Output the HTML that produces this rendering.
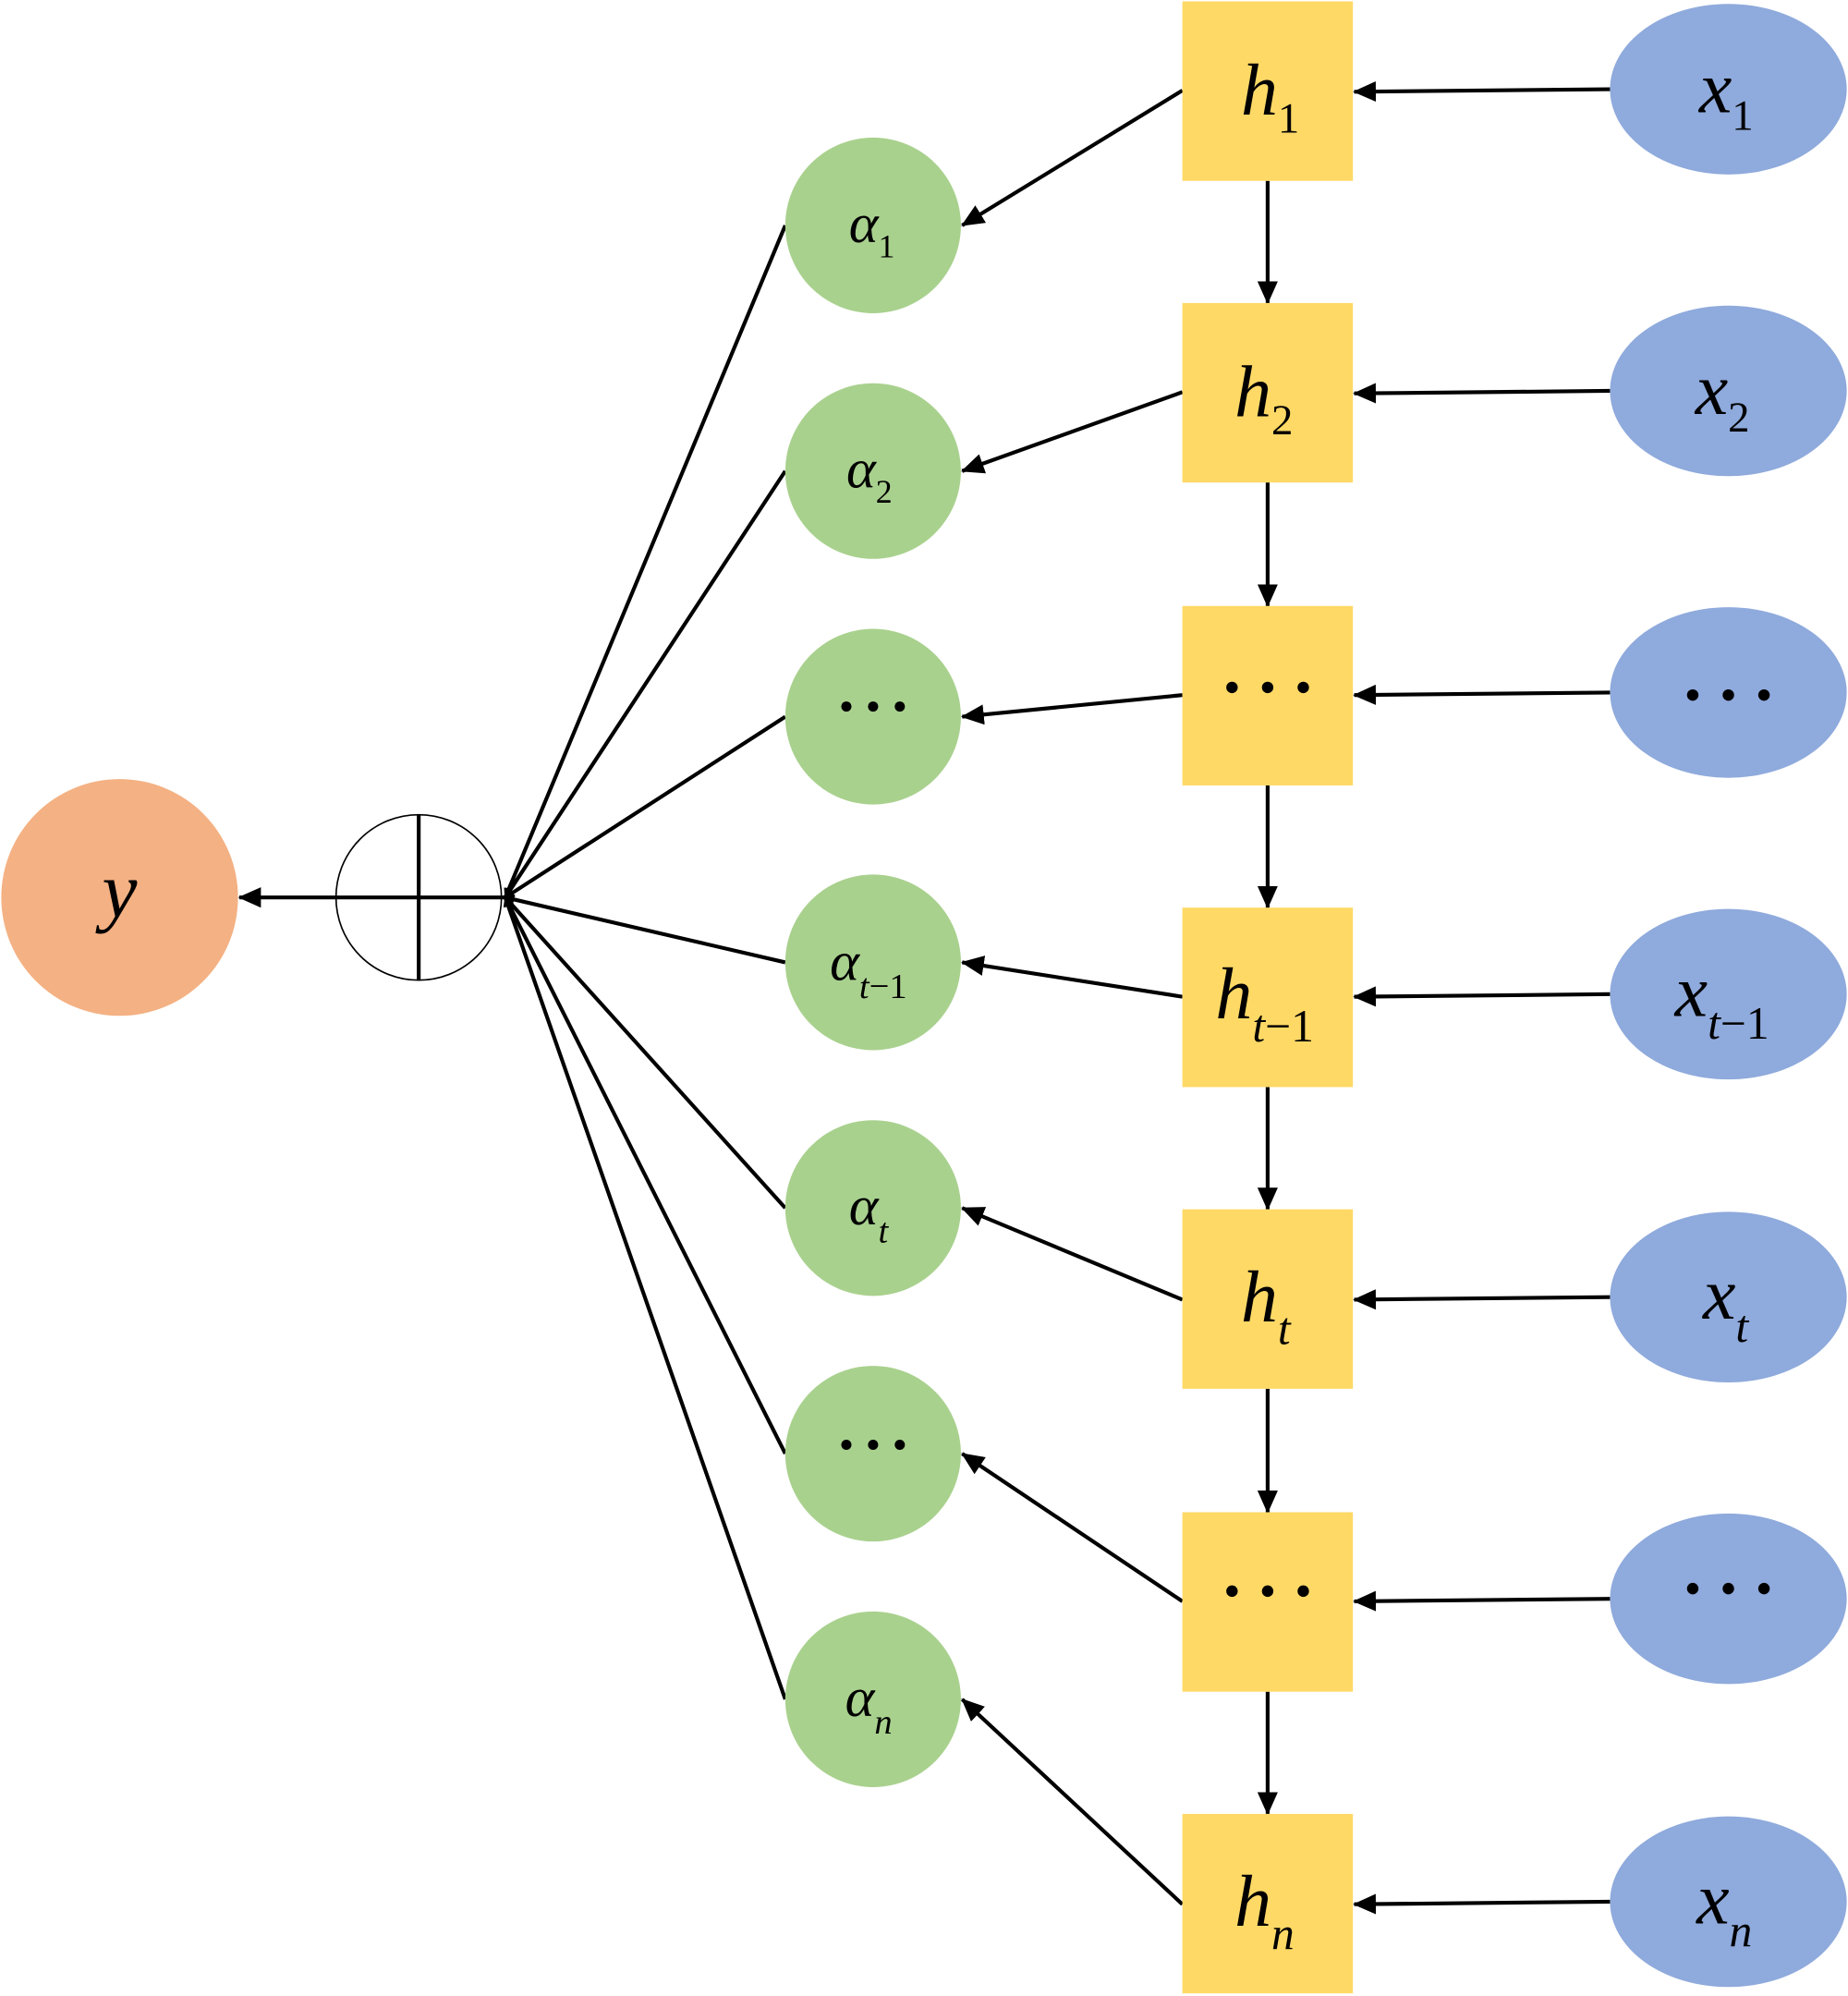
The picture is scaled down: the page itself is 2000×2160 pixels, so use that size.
<!DOCTYPE html>
<html><head><meta charset="utf-8"><style>html,body{margin:0;padding:0;background:#fff}svg{display:block}</style></head>
<body>
<svg width="2000" height="2160" viewBox="0 0 1452 1568" xmlns="http://www.w3.org/2000/svg" font-family="'Liberation Serif', 'Times New Roman', serif" font-style="italic">
<defs><marker id="a" markerWidth="8" markerHeight="8" refX="7" refY="4" orient="auto" markerUnits="userSpaceOnUse" viewBox="0 0 8 8"><path d="M0,0 L8,4 L0,8z" fill="#000"/></marker>
<marker id="b" markerWidth="18" markerHeight="18" refX="17" refY="9" orient="auto" markerUnits="userSpaceOnUse" viewBox="0 0 18 18"><path d="M0,1 L18,9 L0,17z" fill="#000"/></marker></defs>
<g stroke="#000" stroke-width="3" fill="none">
<line x1="1265" y1="70" x2="1064" y2="72" marker-end="url(#b)"/>
<line x1="1265" y1="307" x2="1064" y2="309" marker-end="url(#b)"/>
<line x1="1265" y1="544" x2="1064" y2="546" marker-end="url(#b)"/>
<line x1="1265" y1="781" x2="1064" y2="783" marker-end="url(#b)"/>
<line x1="1265" y1="1019" x2="1064" y2="1021" marker-end="url(#b)"/>
<line x1="1265" y1="1256" x2="1064" y2="1258" marker-end="url(#b)"/>
<line x1="1265" y1="1494" x2="1064" y2="1496" marker-end="url(#b)"/>
<line x1="996" y1="142" x2="996" y2="238" marker-end="url(#b)"/>
<line x1="996" y1="379" x2="996" y2="476" marker-end="url(#b)"/>
<line x1="996" y1="617" x2="996" y2="713" marker-end="url(#b)"/>
<line x1="996" y1="854" x2="996" y2="950" marker-end="url(#b)"/>
<line x1="996" y1="1091" x2="996" y2="1188" marker-end="url(#b)"/>
<line x1="996" y1="1329" x2="996" y2="1425" marker-end="url(#b)"/>
<line x1="929" y1="71" x2="756" y2="177" marker-end="url(#b)"/>
<line x1="929" y1="308" x2="756" y2="370" marker-end="url(#b)"/>
<line x1="929" y1="546" x2="756" y2="563" marker-end="url(#b)"/>
<line x1="929" y1="783" x2="756" y2="756" marker-end="url(#b)"/>
<line x1="929" y1="1021" x2="756" y2="949" marker-end="url(#b)"/>
<line x1="929" y1="1258" x2="756" y2="1142" marker-end="url(#b)"/>
<line x1="929" y1="1496" x2="756" y2="1335" marker-end="url(#b)"/>
<line x1="617" y1="177" x2="397" y2="705" marker-end="url(#a)"/>
<line x1="617" y1="370" x2="397" y2="705" marker-end="url(#a)"/>
<line x1="617" y1="563" x2="397" y2="705" marker-end="url(#a)"/>
<line x1="617" y1="756" x2="397" y2="705" marker-end="url(#a)"/>
<line x1="617" y1="949" x2="397" y2="705" marker-end="url(#a)"/>
<line x1="617" y1="1142" x2="397" y2="705" marker-end="url(#a)"/>
<line x1="617" y1="1335" x2="397" y2="705" marker-end="url(#a)"/>
<line x1="397" y1="705" x2="188" y2="705" marker-end="url(#b)"/>
<line x1="329" y1="640" x2="329" y2="770"/>
</g>
<circle cx="329" cy="705" r="65" fill="none" stroke="#000" stroke-width="1.2"/>
<circle cx="94" cy="705" r="93" fill="#F4B183"/>
<text x="94" y="720" font-size="62" text-anchor="middle">y</text>
<g fill="#A9D18E">
<circle cx="686" cy="177" r="69"/><circle cx="686" cy="370" r="69"/><circle cx="686" cy="563" r="69"/><circle cx="686" cy="756" r="69"/><circle cx="686" cy="949" r="69"/><circle cx="686" cy="1142" r="69"/><circle cx="686" cy="1335" r="69"/>
</g>
<g fill="#FFD966">
<rect x="929" y="1" width="134" height="141"/><rect x="929" y="238" width="134" height="141"/><rect x="929" y="476" width="134" height="141"/><rect x="929" y="713" width="134" height="141"/><rect x="929" y="950" width="134" height="141"/><rect x="929" y="1188" width="134" height="141"/><rect x="929" y="1425" width="134" height="141"/>
</g>
<g fill="#8FAADC">
<ellipse cx="1358" cy="70" rx="93" ry="67"/><ellipse cx="1358" cy="307" rx="93" ry="67"/><ellipse cx="1358" cy="544" rx="93" ry="67"/><ellipse cx="1358" cy="781" rx="93" ry="67"/><ellipse cx="1358" cy="1019" rx="93" ry="67"/><ellipse cx="1358" cy="1256" rx="93" ry="67"/><ellipse cx="1358" cy="1494" rx="93" ry="67"/>
</g>
<g font-size="44">
<text x="667" y="190">α<tspan font-size="26" dy="12" font-style="normal">1</tspan></text>
<text x="665" y="383">α<tspan font-size="26" dy="12" font-style="normal">2</tspan></text>
<text x="652" y="770">α<tspan font-size="28" dy="14">t</tspan><tspan font-size="28" font-style="normal">−1</tspan></text>
<text x="667" y="962">α<tspan font-size="28" dy="14">t</tspan></text>
<text x="664" y="1348">α<tspan font-size="28" dy="14">n</tspan></text>
</g>
<g font-size="58">
<text x="975" y="90">h<tspan font-size="34" dy="14" font-style="normal">1</tspan></text>
<text x="970" y="327">h<tspan font-size="34" dy="14" font-style="normal">2</tspan></text>
<text x="955" y="800">h<tspan font-size="36" dy="18">t</tspan><tspan font-size="36" font-style="normal">−1</tspan></text>
<text x="975" y="1038">h<tspan font-size="36" dy="18">t</tspan></text>
<text x="970" y="1513">h<tspan font-size="36" dy="18">n</tspan></text>
<text x="1335" y="88">x<tspan font-size="34" dy="14" font-style="normal">1</tspan></text>
<text x="1332" y="325">x<tspan font-size="34" dy="14" font-style="normal">2</tspan></text>
<text x="1316" y="798">x<tspan font-size="36" dy="18">t</tspan><tspan font-size="36" font-style="normal">−1</tspan></text>
<text x="1338" y="1036">x<tspan font-size="36" dy="18">t</tspan></text>
<text x="1333" y="1511">x<tspan font-size="36" dy="18">n</tspan></text>
</g>
<g fill="#000">
<circle cx="665" cy="555" r="4"/><circle cx="686" cy="555" r="4"/><circle cx="707" cy="555" r="4"/>
<circle cx="665" cy="1135" r="4"/><circle cx="686" cy="1135" r="4"/><circle cx="707" cy="1135" r="4"/>
<circle cx="968" cy="540" r="4.5"/><circle cx="996" cy="540" r="4.5"/><circle cx="1024" cy="540" r="4.5"/>
<circle cx="968" cy="1250" r="4.5"/><circle cx="996" cy="1250" r="4.5"/><circle cx="1024" cy="1250" r="4.5"/>
<circle cx="1330" cy="546" r="4.5"/><circle cx="1358" cy="546" r="4.5"/><circle cx="1386" cy="546" r="4.5"/>
<circle cx="1330" cy="1248" r="4.5"/><circle cx="1358" cy="1248" r="4.5"/><circle cx="1386" cy="1248" r="4.5"/>
</g>
</svg>
</body></html>
